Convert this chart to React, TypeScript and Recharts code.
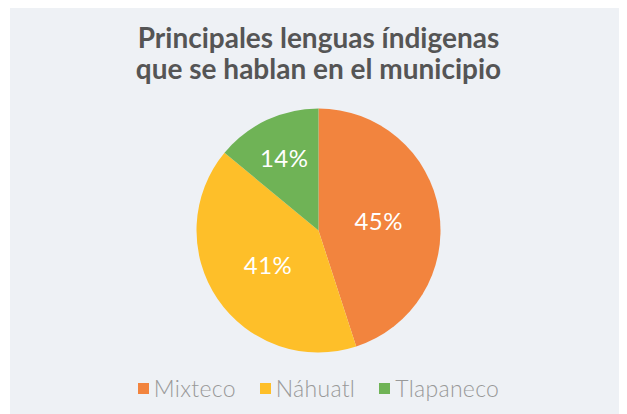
import React from 'react'
import { PieChart, Pie, Cell, Legend } from 'recharts'

const languages = ['Mixteco', 'Náhuatl', 'Tlapaneco']
const shares = [45, 41, 14]
const colors = ['#F2843E', '#FEBF29', '#6FB356']
const titleLines = ['Principales lenguas índigenas', 'que se hablan en el municipio']

const data = languages.map((name, i) => ({ name, value: shares[i] }))

const RADIAN = Math.PI / 180

const renderLabel = (props: any) => {
  const { cx, cy, midAngle, outerRadius, percent } = props
  const r = outerRadius * (percent < 0.2 ? 0.66 : 0.5)
  const x = cx + r * Math.cos(-midAngle * RADIAN)
  const y = cy + r * Math.sin(-midAngle * RADIAN)
  return (
    <text
      x={x}
      y={y}
      fill="#fff"
      textAnchor="middle"
      dominantBaseline="central"
      style={{ fontFamily: 'Lato', fontSize: 24, letterSpacing: 0.5 }}
    >
      {`${Math.round(percent * 100)}%`}
    </text>
  )
}

const LegendContent = () => (
  <div
    style={{
      display: 'flex',
      justifyContent: 'center',
      alignItems: 'center',
      gap: 24,
      fontFamily: 'Lato',
      fontWeight: 300,
      fontSize: 23,
      letterSpacing: 0.3,
      color: '#999',
    }}
  >
    {languages.map((name, i) => (
      <div key={name} style={{ display: 'flex', alignItems: 'center', gap: 5 }}>
        <span style={{ width: 11, height: 11, background: colors[i], display: 'inline-block' }} />
        <span>{name}</span>
      </div>
    ))}
  </div>
)

const App = () => {
  return (
    <div
      style={{
        position: 'relative',
        marginLeft: 2,
        width: 617,
        height: 406,
        background: '#EEF1F5',
      }}
    >
      <div
        style={{
          position: 'absolute',
          top: 14,
          left: 0,
          width: 617,
          textAlign: 'center',
          fontFamily: 'Lato',
          fontWeight: 700,
          fontSize: 28,
          lineHeight: '31px',
          color: '#555',
        }}
      >
        {titleLines.map((line) => (
          <div key={line}>{line}</div>
        ))}
      </div>
      <div style={{ position: 'absolute', top: 0, left: 0 }}>
        <PieChart width={617} height={406} margin={{ top: 0, right: 0, bottom: 0, left: 0 }}>
          <Pie
            data={data}
            dataKey="value"
            nameKey="name"
            cx={308.5}
            cy={222.5}
            outerRadius={122}
            startAngle={90}
            endAngle={-270}
            stroke="none"
            label={renderLabel}
            labelLine={false}
            isAnimationActive={false}
          >
            {data.map((d, i) => (
              <Cell key={d.name} fill={colors[i]} />
            ))}
          </Pie>
          <Legend
            content={<LegendContent />}
            wrapperStyle={{ position: 'absolute', top: 366, left: 0, width: 617 }}
          />
        </PieChart>
      </div>
    </div>
  )
}

export default App
